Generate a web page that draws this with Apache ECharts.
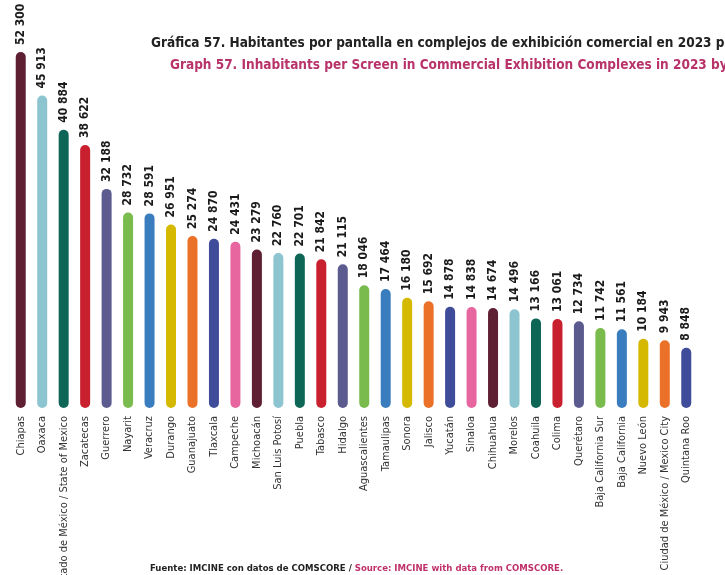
<!DOCTYPE html>
<html><head><meta charset="utf-8">
<script src="https://cdn.jsdelivr.net/npm/echarts@6/dist/echarts.min.js"></script>
<style>html,body{margin:0;padding:0;background:#fff}#c{width:725px;height:575px}</style>
</head><body><div id="c"></div>
<script>
const categories = ["Chiapas","Oaxaca","Estado de México / State of Mexico","Zacatecas","Guerrero","Nayarit","Veracruz","Durango","Guanajuato","Tlaxcala","Campeche","Michoacán","San Luis Potosí","Puebla","Tabasco","Hidalgo","Aguascalientes","Tamaulipas","Sonora","Jalisco","Yucatán","Sinaloa","Chihuahua","Morelos","Coahuila","Colima","Querétaro","Baja California Sur","Baja California","Nuevo León","Ciudad de México / Mexico City","Quintana Roo"];
const values = [52300,45913,40884,38622,32188,28732,28591,26951,25274,24870,24431,23279,22760,22701,21842,21115,18046,17464,16180,15692,14878,14838,14674,14496,13166,13061,12734,11742,11561,10184,9943,8848];
const palette = ["#5e1f33","#8cc5cf","#0e6656","#c8202f","#5b5b8f","#79bb4c","#3a7dbf","#d4b900","#ec7128","#3f4c9a","#e866a0"];
const titleEs = "Gráfica 57. Habitantes por pantalla en complejos de exhibición comercial en 2023 por entidad federativa";
const titleEn = "Graph 57. Inhabitants per Screen in Commercial Exhibition Complexes in 2023 by State";
const sourceEs = "Fuente: IMCINE con datos de COMSCORE / ";
const sourceEn = "Source: IMCINE with data from COMSCORE.";

const FONT = "'DejaVu Sans Condensed','Liberation Sans Narrow',sans-serif";
const fmt = v => String(v).replace(/\B(?=(\d{3})+(?!\d))/g, " ");

const chart = echarts.init(document.getElementById('c'));
chart.setOption({
  animation: false,
  title: [
    {text: titleEs, left: 151, top: 36, padding: 0, textStyle: {fontFamily: FONT, fontSize: 13.5, fontWeight: 'bold', color: '#222'}},
    {text: titleEn, left: 170, top: 58, padding: 0, textStyle: {fontFamily: FONT, fontSize: 13.5, fontWeight: 'bold', color: '#b8336a'}},
    {text: '{a|' + sourceEs + '}{b|' + sourceEn + '}', left: 150, top: 564, padding: 0,
     textStyle: {rich: {
       a: {fontFamily: FONT, fontSize: 9.5, fontWeight: 'bold', color: '#222'},
       b: {fontFamily: FONT, fontSize: 9.5, fontWeight: 'bold', color: '#c0306a'}
     }}}
  ],
  grid: {left: 10, right: 28, top: 52, bottom: 167, containLabel: false, outerBoundsMode: 'none'},
  xAxis: {
    type: 'category', data: categories,
    axisLine: {show: false}, axisTick: {show: false},
    axisLabel: {rotate: 90, interval: 0, margin: 8, fontFamily: FONT, fontSize: 11, color: '#333'}
  },
  yAxis: {type: 'value', min: 0, max: 'dataMax', show: false, splitLine: {show: false}},
  series: [{
    type: 'bar', barWidth: 10,
    data: values.map((v, i) => ({value: v, itemStyle: {color: palette[i % palette.length]}})),
    itemStyle: {borderRadius: 5},
    label: {show: true, position: 'top', rotate: 90, align: 'left', verticalAlign: 'middle', distance: 7,
      fontFamily: FONT, fontSize: 12, fontWeight: 'bold', color: '#1a1a1a',
      formatter: p => fmt(p.value)}
  }]
});
</script></body></html>
